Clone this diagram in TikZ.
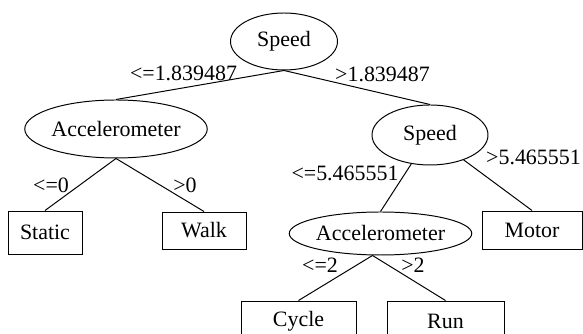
\documentclass[tikz,border=0pt]{standalone}
\usepackage{fontspec}
\setmainfont{Liberation Serif}
\usetikzlibrary{shapes.geometric}
\begin{document}
\begin{tikzpicture}[line width=0.7pt, every node/.style={font=\fontsize{15.6}{18}\selectfont}]

\tikzstyle{attr} = [ellipse,draw,inner sep=0];
\tikzstyle{leaf} = [rectangle,draw,inner sep=0];

\useasboundingbox (0,0) rectangle (14.575,8.35);

\node[attr,minimum width=2.675cm,minimum height=1.425cm] (v1) at (7.1,7.3125) {Speed};
\node[attr,minimum width=4.375cm,minimum height=1.45cm] (v2) at (2.9,5.125) {Accelerometer};
\node[attr,minimum width=2.9cm,minimum height=1.5cm] (v3) at (10.75,4.975) {Speed};
\node[leaf,minimum width=1.85cm,minimum height=1.075cm] (v4) at (1.125,2.5375) {Static};
\node[leaf,minimum width=2.1cm,minimum height=0.925cm] (v5) at (5.1,2.5875) {Walk};
\node[attr,minimum width=3.825cm,minimum height=1.075cm] (v6) at (9.5125,2.5125) {Accelerometer};
\node[leaf,minimum width=2.5cm,minimum height=0.95cm] (v7) at (13.3,2.6) {Motor};
\node[leaf,minimum width=2.875cm,minimum height=1cm] (v8) at (7.4625,0.325) {Cycle};
\node[leaf,minimum width=2.925cm,minimum height=1cm] (v9) at (11.1375,0.325) {Run};

\draw (v1.south) -- (v2.north);
\draw (v1.south) -- (v3.north);
\draw (v2.south) -- (v4.north);
\draw (v2.south) -- (v5.north);
\draw (v3) -- (v6.north);
\draw (v3) -- (v7.north);
\draw ([xshift=-0.2cm]v6.south) -- (v8.north);
\draw ([xshift=-0.2cm]v6.south) -- (v9.north);

\node (l1) at (4.5875,6.525) {<=1.839487};
\node (l2) at (9.5625,6.5) {>1.839487};
\node (l3) at (1.275,3.725) {<=0};
\node (l4) at (4.625,3.725) {>0};
\node (l5) at (8.625,4.025) {<=5.465551};
\node (l6) at (13.3375,4.425) {>5.465551};
\node (l7) at (8.0,1.725) {<=2};
\node (l8) at (10.325,1.725) {>2};
\end{tikzpicture}
\end{document}
